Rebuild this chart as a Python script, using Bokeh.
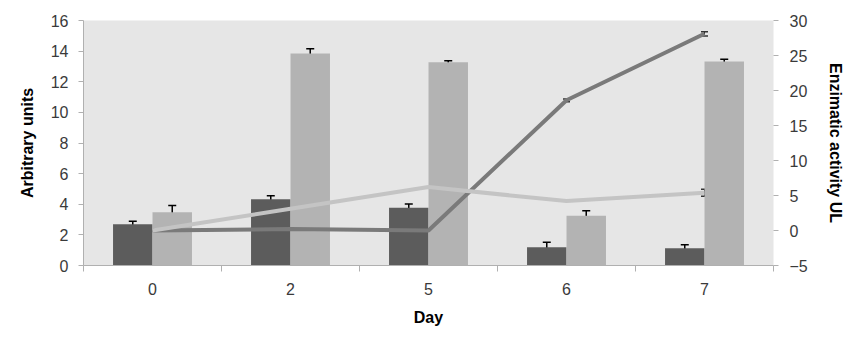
from bokeh.plotting import figure
from bokeh.models import (ColumnDataSource, Range1d, LinearAxis, FixedTicker, Whisker,
                          TeeHead, Legend, LegendItem)
from bokeh.embed import file_html
from bokeh.resources import INLINE

days = ["0", "2", "5", "6", "7"]
lac_expr = [2.69, 4.33, 3.77, 1.19, 1.12]
lac_expr_err = [0.2, 0.22, 0.25, 0.33, 0.24]
mnp_expr = [3.47, 13.85, 13.27, 3.25, 13.32]
mnp_expr_err = [0.45, 0.3, 0.1, 0.33, 0.15]
lac_act = [0.0, 0.2, 0.0, 18.6, 28.1]
lac_act_err = [0.0, 0.0, 0.0, 0.2, 0.3]
mnp_act = [0.0, 3.1, 6.2, 4.2, 5.4]
mnp_act_err = [0.0, 0.0, 0.0, 0.0, 0.5]
left_ticks = [0, 2, 4, 6, 8, 10, 12, 14, 16]
right_ticks = [-5, 0, 5, 10, 15, 20, 25, 30]
legend_labels = ["Relative expression - Lac", "Relative expression - MnP", "Lac", "MnP"]

FONT = "Liberation Sans"
BAR_W = 0.286
DARK = "#5c5c5c"
LIGHT = "#b3b3b3"
LAC_LINE = "#7a7a7a"
MNP_LINE = "#c4c4c4"
AX = "#b0b0b0"
LBL = "#3a3a3a"

pos = [i + 0.5 for i in range(len(days))]
src = ColumnDataSource(dict(
    x=pos,
    xl=[p - BAR_W / 2 for p in pos],
    xm=[p + BAR_W / 2 for p in pos],
    lac=lac_expr,
    lac_lo=[v - e for v, e in zip(lac_expr, lac_expr_err)],
    lac_hi=[v + e for v, e in zip(lac_expr, lac_expr_err)],
    mnp=mnp_expr,
    mnp_lo=[v - e for v, e in zip(mnp_expr, mnp_expr_err)],
    mnp_hi=[v + e for v, e in zip(mnp_expr, mnp_expr_err)],
    lac_a=lac_act,
    lac_a_lo=[v - e for v, e in zip(lac_act, lac_act_err)],
    lac_a_hi=[v + e for v, e in zip(lac_act, lac_act_err)],
    mnp_a=mnp_act,
    mnp_a_lo=[v - e for v, e in zip(mnp_act, mnp_act_err)],
    mnp_a_hi=[v + e for v, e in zip(mnp_act, mnp_act_err)],
))

p = figure(frame_width=690, frame_height=245, output_backend="svg", toolbar_location=None,
           x_range=Range1d(0, len(days)), y_range=Range1d(0, 16),
           min_border_left=83, min_border_right=84, min_border_top=20, min_border_bottom=0)
p.extra_y_ranges = {"right": Range1d(-5, 30)}
p.background_fill_color = "#e6e6e6"
p.border_fill_color = "white"
p.outline_line_color = None
p.xgrid.visible = False
p.ygrid.visible = False

r_lac = p.vbar(x="xl", top="lac", bottom=0, width=BAR_W, source=src, fill_color=DARK, line_color=None)
r_mnp = p.vbar(x="xm", top="mnp", bottom=0, width=BAR_W, source=src, fill_color=LIGHT, line_color=None)

for lo, hi, xc in [("lac_lo", "lac_hi", "xl"), ("mnp_lo", "mnp_hi", "xm")]:
    w = Whisker(base=xc, lower=lo, upper=hi, source=src, line_color="black", line_width=1.5,
                upper_head=TeeHead(size=8, line_width=1.5, line_color="black"),
                lower_head=TeeHead(size=8, line_width=1.5, line_color="black"))
    p.add_layout(w)

r_lacl = p.line(x="x", y="lac_a", source=src, line_color=LAC_LINE, line_width=4, y_range_name="right")
r_mnpl = p.line(x="x", y="mnp_a", source=src, line_color=MNP_LINE, line_width=4, y_range_name="right")

for lo, hi in [("lac_a_lo", "lac_a_hi"), ("mnp_a_lo", "mnp_a_hi")]:
    w = Whisker(base="x", lower=lo, upper=hi, source=src, line_color="#333333", line_width=1,
                y_range_name="right",
                upper_head=TeeHead(size=7, line_width=1.5, line_color="#333333"),
                lower_head=TeeHead(size=7, line_width=1.5, line_color="#333333"))
    p.add_layout(w)

xa = p.xaxis[0]
xa.ticker = FixedTicker(ticks=pos, minor_ticks=list(range(len(days) + 1)))
xa.major_label_overrides = {v: d for v, d in zip(pos, days)}
xa.major_tick_line_color = None
xa.major_tick_out = 5
xa.minor_tick_line_color = AX
xa.minor_tick_in = 0
xa.minor_tick_out = 6
xa.axis_line_color = AX
xa.major_label_standoff = 11
xa.major_label_text_font = FONT
xa.major_label_text_font_size = "16px"
xa.major_label_text_color = LBL
xa.axis_label = "Day"
xa.axis_label_text_font = FONT
xa.axis_label_text_font_size = "16px"
xa.axis_label_text_font_style = "bold"
xa.axis_label_text_color = "black"
xa.axis_label_standoff = 11

ya = p.yaxis[0]
ya.ticker = FixedTicker(ticks=left_ticks)
ya.minor_tick_line_color = None
ya.major_tick_in = 0
ya.major_tick_out = 5
ya.major_tick_line_color = AX
ya.axis_line_color = AX
ya.major_label_text_font = FONT
ya.major_label_text_font_size = "16px"
ya.major_label_text_color = LBL
ya.major_label_standoff = 10
ya.axis_label = "Arbitrary units"
ya.axis_label_text_font = FONT
ya.axis_label_text_font_size = "16px"
ya.axis_label_text_font_style = "bold"
ya.axis_label_text_color = "black"
ya.axis_label_standoff = 12

ra = LinearAxis(y_range_name="right", ticker=FixedTicker(ticks=right_ticks))
ra.minor_tick_line_color = None
ra.major_tick_in = 0
ra.major_tick_out = 5
ra.major_tick_line_color = AX
ra.axis_line_color = None
ra.major_label_text_font = FONT
ra.major_label_text_font_size = "16px"
ra.major_label_text_color = LBL
ra.major_label_standoff = 11
ra.axis_label = "Enzimatic activity UL"
ra.axis_label_text_font = FONT
ra.axis_label_text_font_size = "16px"
ra.axis_label_text_font_style = "bold"
ra.axis_label_text_color = "black"
ra.axis_label_standoff = 16
p.add_layout(ra, "right")

legend = Legend(items=[LegendItem(label=t, renderers=[g])
                       for t, g in zip(legend_labels, [r_lac, r_mnp, r_lacl, r_mnpl])],
                orientation="horizontal", location="top_center")
legend.background_fill_alpha = 0
legend.border_line_color = None
legend.padding = 0
legend.margin = 6
legend.spacing = 36
legend.label_standoff = 2
legend.glyph_width = 30
legend.glyph_height = 11
legend.label_height = 16
legend.label_text_font = FONT
legend.label_text_font_size = "16px"
legend.label_text_color = "black"
p.add_layout(legend, "below")

open("out.html", "w").write(file_html(p, INLINE))
